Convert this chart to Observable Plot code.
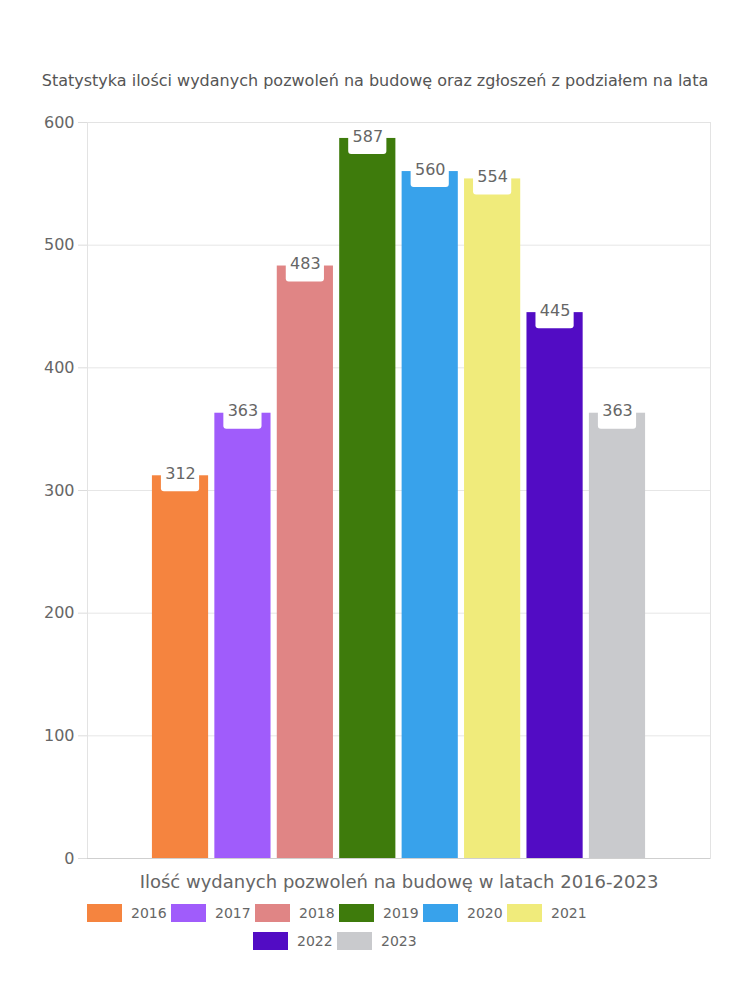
<!DOCTYPE html>
<html>
<head>
<meta charset="utf-8">
<script src="https://cdn.jsdelivr.net/npm/d3@7"></script>
<script src="https://cdn.jsdelivr.net/npm/@observablehq/plot@0.6"></script>
<style>
  body { margin: 0; background: #fff; font-family: "DejaVu Sans", sans-serif; }
  #wrap { width: 750px; }
  #title { height: 100px; box-sizing: border-box; padding-top: 71px; text-align: center; font-size: 16px; color: #555; white-space: nowrap; }
  #legend { position: relative; width: 750px; height: 60px; }
  .item { position: absolute; display: flex; align-items: center; height: 18px; font-size: 14px; color: #666; white-space: nowrap; }
  .sw { width: 35px; height: 18px; margin-right: 9px; }
</style>
</head>
<body>
<div id="wrap">
  <div id="title"></div>
  <div id="chart"></div>
  <div id="legend"></div>
</div>
<script>
const titleText = "Statystyka ilości wydanych pozwoleń na budowę oraz zgłoszeń z podziałem na lata";
const xTitle = "Ilość wydanych pozwoleń na budowę w latach 2016-2023";
const years = ["2016", "2017", "2018", "2019", "2020", "2021", "2022", "2023"];
const values = [312, 363, 483, 587, 560, 554, 445, 363];
const colors = ["#f5843f", "#a05cfb", "#e08585", "#3e7b0c", "#38a2eb", "#f0eb7b", "#520cc4", "#c9cacd"];
const yTicks = [0, 100, 200, 300, 400, 500, 600];

const data = years.map((y, i) => ({year: y, value: values[i]}));

document.getElementById("title").textContent = titleText;

const chart = Plot.plot({
  width: 750,
  height: 798,
  marginTop: 22,
  marginBottom: 40,
  marginLeft: 87,
  marginRight: 40,
  style: { fontFamily: "DejaVu Sans, sans-serif", fontSize: "16px", color: "#666", background: "#fff" },
  x: { domain: years, paddingInner: 0.1, paddingOuter: 1.04, round: false, axis: null },
  y: { domain: [0, 600], ticks: yTicks, label: null },
  color: { domain: years, range: colors },
  marks: [
    Plot.gridY(yTicks, { stroke: "#e6e6e6", strokeOpacity: 1 }),
    Plot.axisY(yTicks, { tickSize: 9, stroke: "#dcdcdc", tickPadding: 4, fontSize: 16, fill: "#666", label: null }),
    Plot.frame({ stroke: "#e3e3e3" }),
    Plot.ruleY([0], { stroke: "#cfcfcf" }),
    Plot.barY(data, { x: "year", y: "value", fill: "year" }),
    Plot.barY(data, { x: "year", y1: "value", y2: "value", fill: "#fff", insetLeft: 9, insetRight: 9, insetTop: -10, insetBottom: -16, rx: 3 }),
    Plot.text(data, { x: "year", y: "value", text: d => String(d.value), fill: "#666", fontSize: 16, lineAnchor: "middle", dy: -2 }),
    Plot.text([xTitle], { frameAnchor: "bottom", dy: 29, fill: "#666", fontSize: 18, lineAnchor: "bottom" })
  ]
});
document.getElementById("chart").appendChild(chart);

// legend layout: row 1 starts at x=87, row 2 at x=253, step 84
const legend = document.getElementById("legend");
const rowStarts = [87, 253];
const perRow = [6, 2];
let idx = 0;
rowStarts.forEach((x0, r) => {
  for (let k = 0; k < perRow[r]; k++, idx++) {
    const it = document.createElement("div");
    it.className = "item";
    it.style.left = (x0 + k * 84) + "px";
    it.style.top = (6 + r * 28) + "px";
    const sw = document.createElement("div");
    sw.className = "sw";
    sw.style.background = colors[idx];
    const lb = document.createElement("span");
    lb.textContent = years[idx];
    it.appendChild(sw);
    it.appendChild(lb);
    legend.appendChild(it);
  }
});
</script>
</body>
</html>
